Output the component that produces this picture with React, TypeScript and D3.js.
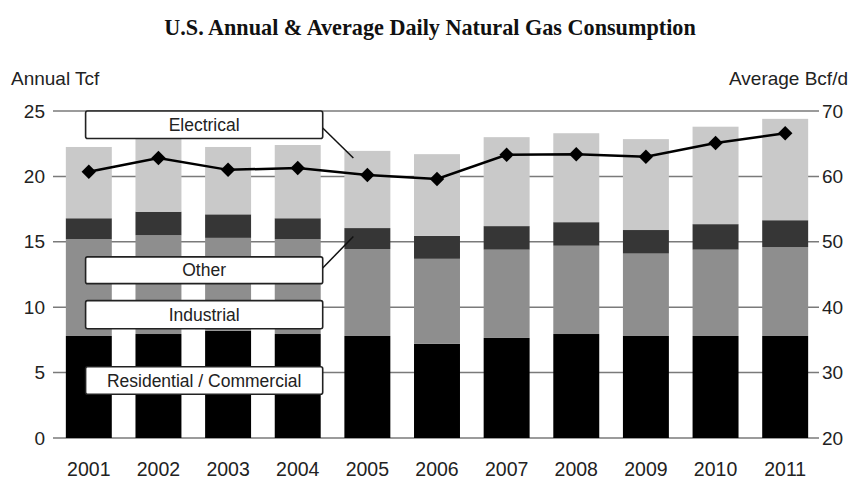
import React from 'react';
import * as d3 from 'd3';

const years = ['2001', '2002', '2003', '2004', '2005', '2006', '2007', '2008', '2009', '2010', '2011'];
// Annual Tcf by sector (stacked, bottom to top)
const residential = [7.8, 7.95, 8.2, 7.95, 7.8, 7.2, 7.65, 7.95, 7.8, 7.8, 7.8];
const industrial = [7.4, 7.55, 7.1, 7.25, 6.65, 6.5, 6.75, 6.75, 6.3, 6.6, 6.8];
const other = [1.6, 1.8, 1.8, 1.6, 1.6, 1.75, 1.8, 1.8, 1.8, 1.95, 2.05];
const electrical = [5.45, 5.7, 5.15, 5.6, 5.9, 6.25, 6.8, 6.8, 6.95, 7.45, 7.75];
// Average Bcf/d
const dailyAvg = [60.7, 62.8, 61.0, 61.3, 60.2, 59.6, 63.3, 63.4, 63.0, 65.1, 66.6];

const leftTicks = [0, 5, 10, 15, 20, 25];
const rightTicks = [20, 30, 40, 50, 60, 70];

const sectors = ['Residential / Commercial', 'Industrial', 'Other', 'Electrical'];
const sectorColors = ['#000000', '#8e8e8e', '#363636', '#c9c9c9'];
// callout boxes, in Tcf units (top, bottom)
const boxTops = [5.45, 10.5, 13.85, 25];
const boxBottoms = [3.35, 8.35, 11.8, 22.9];

const W = 856;
const H = 479;
const sans = 'Liberation Sans, Arial, sans-serif';

export default function App() {
  const x = d3.scaleBand().domain(years).range([54, 820]).paddingInner(0.34).paddingOuter(0.17);
  const yL = d3.scaleLinear().domain([0, 25]).range([438, 111]);
  const yR = d3.scaleLinear().domain([20, 70]).range([438, 111]);
  const bw = x.bandwidth();

  const rows = years.map((yr, i) => ({
    year: yr,
    residential: residential[i],
    industrial: industrial[i],
    other: other[i],
    electrical: electrical[i],
  }));
  const keys = ['residential', 'industrial', 'other', 'electrical'];
  const stacked = d3.stack().keys(keys)(rows as any);

  const cx = (yr: string) => (x(yr) as number) + bw / 2;
  const line = d3.line<number>()
    .x((_, i) => cx(years[i]))
    .y(d => yR(d));

  const boxX0 = (x('2001') as number) + bw * 0.43;
  const boxX1 = (x('2004') as number) + bw + 2;
  const leaderX = cx('2005') - 14;
  const marker = d3.symbol(d3.symbolSquare, 105)() || '';

  return (
    <svg width={W} height={H} style={{ position: 'absolute', left: 0, top: 0, background: '#fff' }}>
      <text x={430} y={35} textAnchor="middle" fontFamily="Liberation Serif, Times New Roman, serif"
        fontWeight="bold" fontSize={22.2} fill="#111">
        U.S. Annual &amp; Average Daily Natural Gas Consumption
      </text>

      <text x={11} y={85} fontFamily={sans} fontSize={19} fill="#222">Annual Tcf</text>
      <text x={848} y={85} textAnchor="end" fontFamily={sans} fontSize={19} fill="#222">Average Bcf/d</text>

      {leftTicks.map(t => (
        <g key={'g' + t}>
          <line x1={53} x2={819} y1={yL(t)} y2={yL(t)} stroke="#7a7a7a" strokeWidth={1.5} />
          <text x={45} y={yL(t)} dy="0.35em" textAnchor="end" fontFamily={sans} fontSize={19} fill="#222">{t}</text>
        </g>
      ))}
      {rightTicks.map(t => (
        <text key={'r' + t} x={822} y={yR(t)} dy="0.35em" fontFamily={sans} fontSize={19} fill="#222">{t}</text>
      ))}

      {stacked.map((layer, li) => (
        <g key={layer.key} fill={sectorColors[li]}>
          {layer.map((d, i) => (
            <rect key={i} x={x(years[i])} width={bw} y={yL(d[1])} height={yL(d[0]) - yL(d[1])} />
          ))}
        </g>
      ))}

      {years.map(yr => (
        <text key={'x' + yr} x={cx(yr)} y={476} textAnchor="middle" fontFamily={sans} fontSize={19.5} fill="#222">{yr}</text>
      ))}

      {/* leader lines */}
      <line x1={boxX1} y1={yL(23.7)} x2={leaderX} y2={yL(21.4)} stroke="#111" strokeWidth={1.5} />
      <line x1={boxX1} y1={yL(13.0)} x2={leaderX} y2={yL(15.4)} stroke="#111" strokeWidth={1.5} />

      {sectors.map((s, i) => (
        <g key={s}>
          <rect x={boxX0} y={yL(boxTops[i])} width={boxX1 - boxX0} height={yL(boxBottoms[i]) - yL(boxTops[i])}
            rx={2} fill="#fff" stroke="#222" strokeWidth={1.6} />
          <text x={(boxX0 + boxX1) / 2} y={(yL(boxTops[i]) + yL(boxBottoms[i])) / 2} dy="0.35em"
            textAnchor="middle" fontFamily={sans} fontSize={17.5} fill="#222">{s}</text>
        </g>
      ))}

      <path d={line(dailyAvg) || ''} fill="none" stroke="#000" strokeWidth={2.5} />
      {dailyAvg.map((v, i) => (
        <path key={'m' + i} d={marker}
          transform={`translate(${cx(years[i])},${yR(v)}) rotate(45)`} fill="#000" />
      ))}
    </svg>
  );
}
